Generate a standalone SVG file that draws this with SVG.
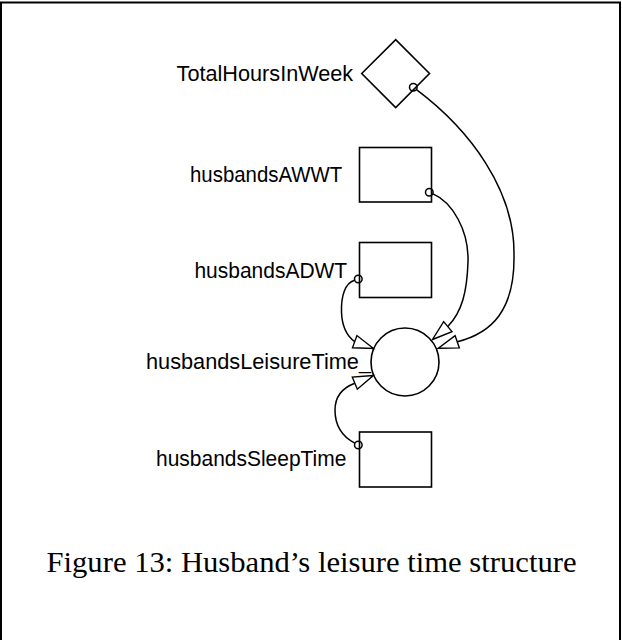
<svg xmlns="http://www.w3.org/2000/svg" width="622" height="640" viewBox="0 0 622 640">
  <style>
    .frame { fill: none; stroke: #000; stroke-width: 2; }
    .shape { fill: none; stroke: #000; stroke-width: 1.6; }
    .label { font-family: "Liberation Sans", Arial, sans-serif; font-size: 22.5px; fill: #000; text-anchor: end; }
    .caption { font-family: "Liberation Serif", "Times New Roman", serif; font-size: 29px; fill: #000; text-anchor: middle; }
    .link { fill: none; stroke: #000; stroke-width: 1.5; }
    .tail { fill: none; stroke: #000; stroke-width: 1.5; }
    .head { fill: #fff; stroke: #000; stroke-width: 1.4; stroke-linejoin: miter; }
  </style>
  <defs>
    <!-- hollow arrowhead, tip at the origin, pointing along +x -->
    <path id="arrowhead" class="head" d="M0,0 L-20,-6.5 L-20,6.5 Z"/>
  </defs>

  <rect class="frame" x="1" y="2.5" width="619" height="700"/>

  <g id="TotalHoursInWeek">
    <polygon class="shape" points="361.7,73.5 395.7,39.7 429.5,73.5 395.7,107.5"/>
    <text class="label" x="353.2" y="80.8" textLength="176.6" lengthAdjust="spacingAndGlyphs">TotalHoursInWeek</text>
  </g>

  <g id="husbandsAWWT">
    <rect class="shape" x="359.5" y="147.5" width="72" height="54.5"/>
    <text class="label" x="342.3" y="182" textLength="152.3" lengthAdjust="spacingAndGlyphs">husbandsAWWT</text>
  </g>

  <g id="husbandsADWT">
    <rect class="shape" x="359.5" y="242.5" width="72" height="55"/>
    <text class="label" x="347.2" y="277.8" textLength="152.8" lengthAdjust="spacingAndGlyphs">husbandsADWT</text>
  </g>

  <g id="husbandsLeisureTime_">
    <circle class="shape" cx="405" cy="362" r="34"/>
    <text class="label" x="371" y="369.3" textLength="225" lengthAdjust="spacingAndGlyphs">husbandsLeisureTime_</text>
  </g>

  <g id="husbandsSleepTime">
    <rect class="shape" x="359.5" y="432" width="72" height="55"/>
    <text class="label" x="346.4" y="466" textLength="190.4" lengthAdjust="spacingAndGlyphs">husbandsSleepTime</text>
  </g>

  <g id="connectors">
    <!-- TotalHoursInWeek -> husbandsLeisureTime_ -->
    <circle class="tail" cx="413.3" cy="87.3" r="3.8"/>
    <path class="link" d="M416.5,89.7 C470,130 515,190 514,255 C515,310 492,333 457.2,341.8"/>
    <use href="#arrowhead" transform="translate(438.3,348.3) rotate(161)"/>

    <!-- husbandsAWWT -> husbandsLeisureTime_ -->
    <circle class="tail" cx="429.3" cy="192.3" r="3.8"/>
    <path class="link" d="M433,193.9 C452,202 469,230 468,262 C467,292 462,312 447.8,326.6"/>
    <use href="#arrowhead" transform="translate(432.5,339.5) rotate(140)"/>

    <!-- husbandsADWT -> husbandsLeisureTime_ -->
    <circle class="tail" cx="358.3" cy="279" r="3.8"/>
    <path class="link" d="M354.5,280.2 C345,283 341,296 341.5,312 C342,328 347,336 354.7,341.7"/>
    <use href="#arrowhead" transform="translate(373.5,348.5) rotate(20)"/>

    <!-- husbandsSleepTime -> husbandsLeisureTime_ -->
    <circle class="tail" cx="358.3" cy="445" r="3.8"/>
    <path class="link" d="M354.8,443.1 C345,438 335,428 335,410 C335,396 342,388 354.8,383.2"/>
    <use href="#arrowhead" transform="translate(373.3,375.5) rotate(-22.5)"/>
  </g>

  <text class="caption" x="311.5" y="572" textLength="530" lengthAdjust="spacingAndGlyphs">Figure 13: Husband’s leisure time structure</text>
</svg>
